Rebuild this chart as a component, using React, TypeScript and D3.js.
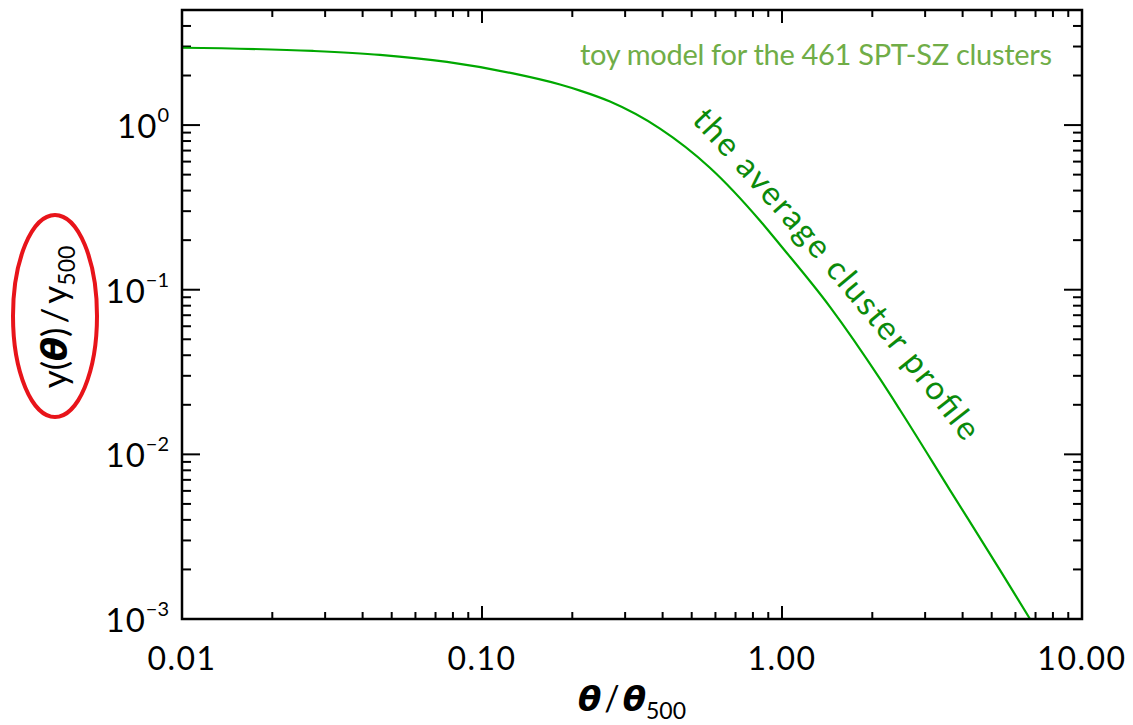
import React from 'react';
import * as d3 from 'd3';

// profile
const thetaValues = [0.01, 0.02734, 0.0457, 0.0764, 0.1269, 0.182, 0.2122, 0.2671, 0.392, 0.575, 0.845, 0.985, 1.445, 2.122, 2.474, 3.63, 5.33, 6.71];
const profileValues = [2.95, 2.82, 2.67, 2.42, 2.06, 1.764, 1.62, 1.39, 0.952, 0.551, 0.2625, 0.1875, 0.0787, 0.0287, 0.0186, 0.00607, 0.00198, 0.001];

const xTickValues = [0.01, 0.1, 1, 10];
const xTickLabels = ['0.01', '0.10', '1.00', '10.00'];
const yTickValues = [1, 0.1, 0.01, 0.001];
const yTickExponents = ['0', '\u22121', '\u22122', '\u22123'];

const topNote = 'toy model for the 461 SPT-SZ clusters';
const curveNote = 'the average cluster profile';

const W = 1133;
const H = 725;
const P = { left: 182, right: 1082, top: 10, bottom: 619 };

const tickFont = 'Lato, "DejaVu Sans", sans-serif';
const greekFont = '"DejaVu Sans", sans-serif';
const noteFont = 'Lato, "Open Sans", sans-serif';

export default function App() {
  const x = d3.scaleLog().domain([0.01, 10]).range([P.left, P.right]);
  const y = d3.scaleLog().domain([0.001, 5]).range([P.bottom, P.top]);

  const line = d3
    .line<number>()
    .x((_, i) => x(thetaValues[i]))
    .y((d) => y(d))
    .curve(d3.curveMonotoneX);

  const xTicks = x.ticks();
  const yTicks = y.ticks();
  const isMajor = (v: number) => Math.abs(Math.log10(v) - Math.round(Math.log10(v))) < 1e-6;

  // gently bent baseline for the curved annotation
  const a0 = [691, 121];
  const a2 = [963, 441];
  const a1 = [836, 276];
  const arcPath = `M${a0[0]},${a0[1]} Q${a1[0]},${a1[1]} ${a2[0]},${a2[1]}`;

  return (
    <svg width={W} height={H} style={{ position: 'absolute', left: 0, top: 0, background: '#fff' }}>
      <defs>
        <path id="noteArc" d={arcPath} fill="none" />
      </defs>

      {/* ticks */}
      <g stroke="#000" strokeWidth={2}>
        {xTicks.map((v, i) => {
          const len = isMajor(v) ? 13 : 7;
          const px = x(v);
          return (
            <g key={'xt' + i}>
              <line x1={px} x2={px} y1={P.bottom} y2={P.bottom - len} />
              <line x1={px} x2={px} y1={P.top} y2={P.top + len} />
            </g>
          );
        })}
        {yTicks.map((v, i) => {
          const len = isMajor(v) ? 18 : 9;
          const py = y(v);
          return (
            <g key={'yt' + i}>
              <line x1={P.left} x2={P.left + len} y1={py} y2={py} />
              <line x1={P.right} x2={P.right - len} y1={py} y2={py} />
            </g>
          );
        })}
      </g>

      {/* curve */}
      <path d={line(profileValues) || ''} fill="none" stroke="#00a800" strokeWidth={2.2} />

      {/* frame */}
      <rect x={P.left} y={P.top} width={P.right - P.left} height={P.bottom - P.top} fill="none" stroke="#000" strokeWidth={2.5} />

      {/* x tick labels */}
      {xTickValues.map((v, i) => (
        <text key={'xl' + i} x={x(v)} y={670} textAnchor="middle" fontFamily={tickFont} fontWeight={400} fontSize={32} letterSpacing={1.5} fill="#000">
          {xTickLabels[i]}
        </text>
      ))}

      {/* y tick labels */}
      {yTickValues.map((v, i) => (
        <text key={'yl' + i} x={169} y={y(v) + 13} textAnchor="end" fontFamily={tickFont} fontWeight={400} fontSize={33} letterSpacing={1} fill="#000">
          10
          <tspan dy={-16} fontSize={20} letterSpacing={0}>{yTickExponents[i]}</tspan>
        </text>
      ))}

      {/* x title */}
      <text x={(P.left + P.right) / 2} y={711} textAnchor="middle" fontSize={34} fill="#000" fontFamily={tickFont} fontWeight={400}>
        <tspan fontFamily={greekFont} fontStyle="italic" fontWeight="bold">θ</tspan>
        <tspan dx={3}>/</tspan>
        <tspan dx={3} fontFamily={greekFont} fontStyle="italic" fontWeight="bold">θ</tspan>
        <tspan dy={8} fontSize={23}>500</tspan>
      </text>

      {/* y title */}
      <g transform={`translate(67,317) rotate(-90)`}>
        <text x={0} y={0} textAnchor="middle" fontSize={35} fill="#000" fontFamily={tickFont} fontWeight={400}>
          y(
          <tspan fontFamily={greekFont} fontStyle="italic" fontWeight="bold">θ</tspan>
          <tspan>)</tspan>
          <tspan dx={4}>/</tspan>
          <tspan dx={4}>y</tspan>
          <tspan dy={8} fontSize={23}>500</tspan>
        </text>
      </g>

      {/* red highlight ellipse */}
      <ellipse cx={55} cy={316} rx={42} ry={101} fill="none" stroke="#e8141a" strokeWidth={4} />

      {/* annotations */}
      <text x={580} y={65} fontFamily={noteFont} fontSize={29} fill="#70ad47" textLength={472} lengthAdjust="spacing">
        {topNote}
      </text>
      <text fontFamily={noteFont} fontSize={33} fill="#0b8a0b">
        <textPath href="#noteArc" textLength={422} lengthAdjust="spacing">
          {curveNote}
        </textPath>
      </text>
    </svg>
  );
}
